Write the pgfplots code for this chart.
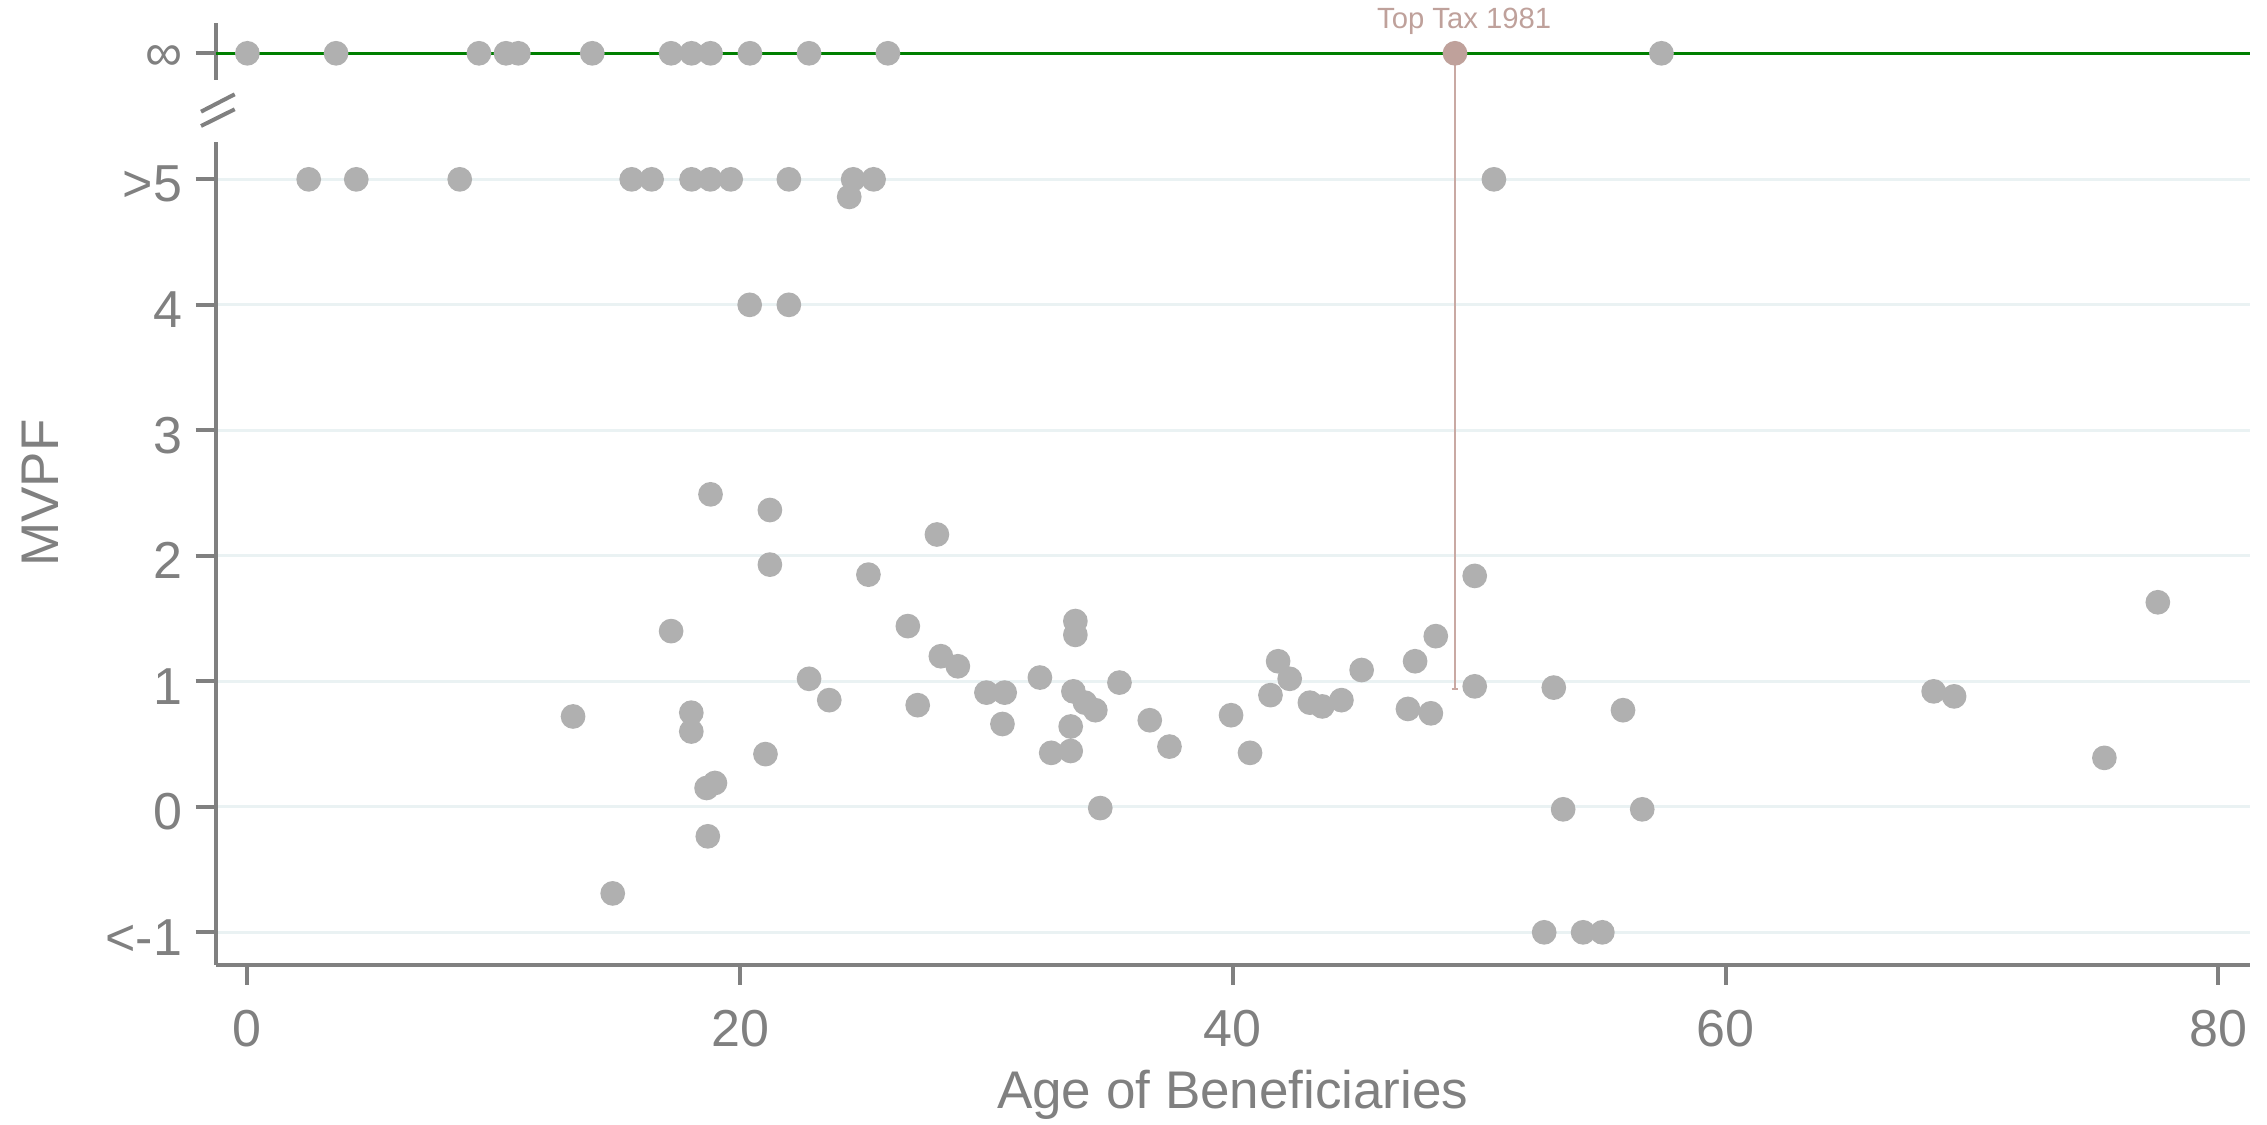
\documentclass[border=0pt]{standalone}
\usepackage{pgfplots}
\pgfplotsset{compat=1.18}
\usepackage{fontspec}
\setmainfont{Liberation Sans}
\definecolor{axgray}{HTML}{808080}
\definecolor{ptgray}{HTML}{B0B0B0}
\definecolor{gridc}{HTML}{EAF2F3}
\definecolor{rosy}{HTML}{BFA19B}
\definecolor{rosyline}{HTML}{C9A9A3}
\definecolor{infgreen}{HTML}{007F00}
\begin{document}
\begin{tikzpicture}
\path[use as bounding box] (0,0) rectangle (453.4pt,225pt);
\begin{axis}[
  at={(43.12pt,32.06pt)}, anchor=south west,
  scale only axis, width=406.88pt, height=164.6pt,
  xmin=-1.29, xmax=81.29, ymin=-1.258, ymax=5.30,
  axis x line=bottom, axis y line=left,
  axis line style={-, draw=axgray, line width=0.8pt},
  tick style={draw=axgray, line width=0.8pt},
  tick align=outside, major tick length=4pt,
  xtick={0,20,40,60,80}, xticklabels={0,20,40,60,80},
  ytick={-1,0,1,2,3,4,5}, yticklabels={{<-1},0,1,2,3,4,{>5}},
  minor tick num=0,
  ymajorgrids, grid style={draw=gridc, line width=0.65pt},
  ticklabel style={font=\fontsize{10.4}{12}\selectfont, text=axgray},
  xticklabel style={anchor=north, inner sep=0pt, yshift=-4.9pt},
  yticklabel style={anchor=east, inner sep=0pt, xshift=-2.5pt, yshift=-1pt},
  xlabel={Age of Beneficiaries}, ylabel={MVPF},
  label style={font=\fontsize{10.6}{12}\selectfont, text=axgray},
  xlabel style={at={(axis description cs:0.5,0)}, anchor=base, yshift=-28.72pt},
  ylabel style={at={(axis description cs:-0.077,0.573)}, anchor=base},
  clip=false,
]
\addplot[rosyline, line width=0.35pt] coordinates {(49.02,0.94) (49.02,6.004)};
\addplot[rosyline, line width=0.35pt] coordinates {(48.88,0.94) (49.16,0.94)};
\addplot[only marks, mark=*, mark size=2.27pt, ptgray, mark options={draw=ptgray, fill=ptgray}] coordinates {
(2.49,5) (4.42,5) (8.62,5) (15.6,5) (16.41,5) (18.03,5) (18.79,5) (19.62,5)
(21.98,5) (24.59,5) (25.42,5) (50.6,5) (24.43,4.86)
(20.39,4.0) (21.98,4.0)
(13.22,0.72) (14.83,-0.69) (17.2,1.40) (18.02,0.75) (18.02,0.60) (18.64,0.15)
(18.98,0.19) (18.69,-0.235) (18.80,2.49) (21.21,2.365) (21.21,1.93) (21.03,0.42)
(22.8,1.02) (23.62,0.85) (25.21,1.85) (26.81,1.44) (27.21,0.81) (27.99,2.17)
(28.15,1.20) (28.84,1.12) (30.0,0.91) (30.74,0.91) (30.65,0.66) (32.17,1.03)
(32.63,0.43) (33.42,0.445) (33.42,0.64) (33.53,0.92) (33.61,1.37) (33.61,1.48)
(34.0,0.83) (34.42,0.77) (34.62,-0.01) (35.4,0.99) (36.63,0.69) (37.43,0.48)
(39.93,0.73) (40.7,0.43) (41.53,0.89) (41.84,1.16) (42.31,1.02) (43.13,0.83)
(43.63,0.80) (44.41,0.85) (45.23,1.09) (47.11,0.78) (47.4,1.16) (48.04,0.745)
(48.24,1.36) (49.82,1.84) (49.82,0.96) (53.03,0.95) (53.41,-0.02) (55.84,0.77)
(56.62,-0.02) (52.64,-1.0) (54.22,-1.0) (55.0,-1.0) (68.45,0.92) (69.28,0.88)
(75.38,0.39) (77.55,1.63)
};
\end{axis}
\begin{axis}[
  at={(43.12pt,209pt)}, anchor=south west,
  scale only axis, width=406.88pt, height=11.46pt,
  xmin=-1.29, xmax=81.29, ymin=5.791, ymax=6.248,
  axis y line=left, axis x line=none,
  axis line style={-, draw=axgray, line width=0.8pt},
  tick style={draw=axgray, line width=0.8pt},
  tick align=outside, major tick length=4pt,
  xtick=\empty, ytick={6.004}, yticklabels={∞},
  ticklabel style={font=\fontsize{10.4}{12}\selectfont, text=axgray},
  yticklabel style={anchor=east, inner sep=0pt, xshift=-2.5pt, yshift=-1pt},
  clip=false,
]
\addplot[infgreen, line width=0.55pt] coordinates {(-1.29,6.004) (81.29,6.004)};
\addplot[only marks, mark=*, mark size=2.27pt, ptgray, mark options={draw=ptgray, fill=ptgray}] coordinates {
(0,6.004) (3.6,6.004) (9.4,6.004) (10.5,6.004) (11.0,6.004) (14.0,6.004)
(17.2,6.004) (18.03,6.004) (18.8,6.004) (20.4,6.004) (22.8,6.004) (26.0,6.004)
(57.4,6.004)
};
\addplot[only marks, mark=*, mark size=2.27pt, rosy, mark options={draw=rosy, fill=rosy}] coordinates {(49.02,6.004)};
\node[anchor=base, inner sep=0pt, text=rosy, font=\fontsize{5.85}{7}\selectfont] at (axis cs:49.39,6.203) {Top Tax 1981};
\end{axis}
\draw[axgray, line width=0.8pt] (40.2pt,199.8pt) -- (46.94pt,203.14pt);
\draw[axgray, line width=0.8pt] (40.2pt,202.66pt) -- (46.94pt,206.14pt);
\end{tikzpicture}
\end{document}
